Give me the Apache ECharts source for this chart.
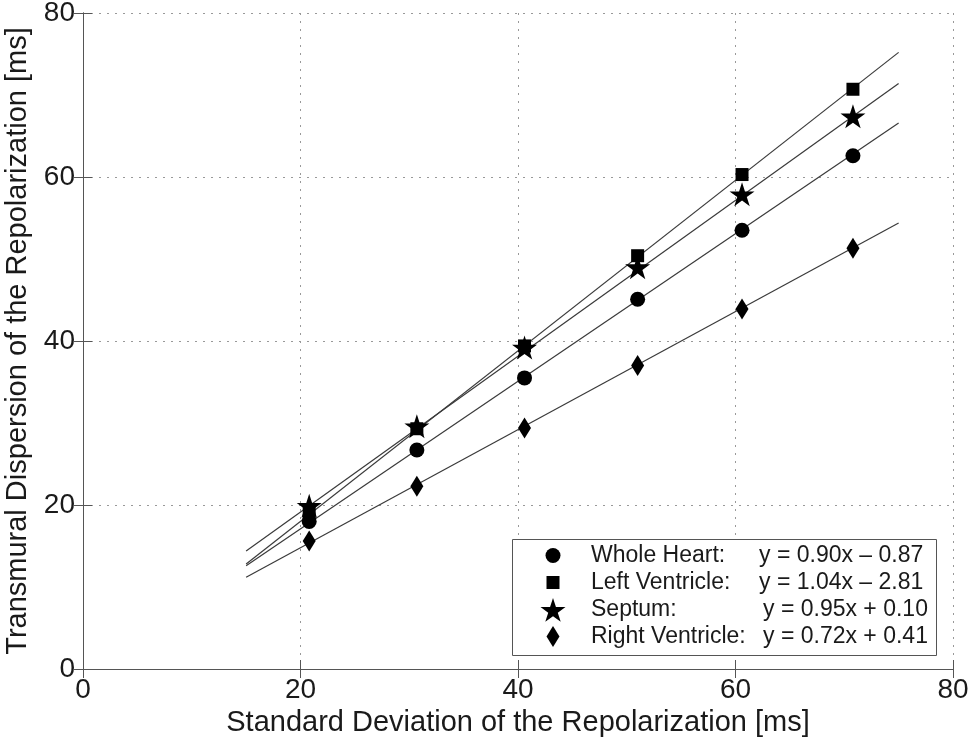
<!DOCTYPE html>
<html>
<head>
<meta charset="utf-8">
<script src="https://cdn.jsdelivr.net/npm/echarts@6/dist/echarts.min.js"></script>
<style>
  html, body { margin: 0; padding: 0; background: #fff; }
  #chart { width: 976px; height: 741px; }
</style>
</head>
<body>
<div id="chart"></div>
<script>
// measured points (x = SD of repolarization, y = transmural dispersion)
const sdX = [20.8, 30.7, 40.6, 51.0, 60.6, 70.8];
const wholeHeart = [18.0, 26.7, 35.5, 45.1, 53.5, 62.6];
const leftVentricle = [19.1, 29.3, 39.4, 50.4, 60.3, 70.7];
const septum = [19.9, 29.6, 39.2, 49.0, 57.9, 67.4];
const rightVentricle = [15.6, 22.3, 29.4, 37.0, 43.9, 51.3];

// regression lines, end points
const fitX = [15, 75];
const fitWhole = [12.6, 66.6];
const fitLeft = [12.8, 75.2];
const fitSeptum = [14.4, 71.4];
const fitRight = [11.2, 54.4];

const names = ['Whole Heart:', 'Left Ventricle:', 'Septum:', 'Right Ventricle:'];
const equations = ['y = 0.90x \u2013 0.87', 'y = 1.04x \u2013 2.81', 'y = 0.95x + 0.10', 'y = 0.72x + 0.41'];

const STAR = 'path://M0,-10 L2.245,-3.09 L9.51,-3.09 L3.633,1.18 L5.878,8.09 L0,3.82 L-5.878,8.09 L-3.633,1.18 L-9.51,-3.09 L-2.245,-3.09 Z';
const FONT = 'Liberation Sans, Arial, Helvetica, sans-serif';
const TXT = '#1a1a1a';

const symbols = ['circle', 'rect', STAR, 'diamond'];
const symbolSizes = [[15, 15], [13, 13], [25, 24], [13, 21]];

// legend box layout (px)
const legendRowY = [556, 583, 610, 637];
const legendIconX = 553;
const legendTextX = 591;
const legendEqX = [759, 759, 763, 763];

const pair = (xs, ys) => xs.map((x, i) => [x, ys[i]]);

const fitLine = (ys) => ({
  type: 'line',
  data: pair(fitX, ys),
  symbol: 'none',
  silent: true,
  animation: false,
  lineStyle: { color: '#3a3a3a', width: 1.2 },
  z: 2
});

const markers = (i, ys) => ({
  type: 'scatter',
  name: names[i],
  data: pair(sdX, ys),
  symbol: symbols[i],
  symbolSize: symbolSizes[i],
  itemStyle: { color: '#000', opacity: 1 },
  animation: false,
  z: 3
});

// one legend per row so every icon can keep its own size
const legends = names.map((name, i) => {
  const w = symbolSizes[i][0];
  const h = symbolSizes[i][1];
  return {
    left: legendIconX - w / 2,
    top: legendRowY[i] - 12,
    padding: 0,
    itemWidth: w,
    itemHeight: h,
    selectedMode: false,
    data: [{ name: name, icon: symbols[i] }],
    formatter: () => '{a|' + name + '}{b|' + equations[i] + '}',
    textStyle: {
      color: TXT,
      fontFamily: FONT,
      rich: {
        a: {
          fontSize: 23, lineHeight: 24, fontFamily: FONT, color: TXT,
          width: legendEqX[i] - legendTextX,
          padding: [0, 0, 0, legendTextX - (legendIconX + w / 2 + 5)]
        },
        b: { fontSize: 23, lineHeight: 24, fontFamily: FONT, color: TXT }
      }
    }
  };
});

const chart = echarts.init(document.getElementById('chart'));

const axisBase = {
  type: 'value',
  min: 0,
  max: 80,
  interval: 20,
  axisLine: { show: true, lineStyle: { color: '#555', width: 1 } },
  axisTick: { show: true, inside: true, length: 9, lineStyle: { color: '#555' } }
};

chart.setOption({
  backgroundColor: '#fff',
  textStyle: { fontFamily: FONT },
  grid: { left: 83, right: 23, top: 13, bottom: 72, containLabel: false, outerBoundsMode: 'none' },
  xAxis: [
    Object.assign({}, axisBase, {
      position: 'bottom',
      name: 'Standard Deviation of the Repolarization [ms]',
      nameLocation: 'middle',
      nameGap: 39,
      nameTextStyle: { fontSize: 29, color: TXT, fontFamily: FONT },
      axisLabel: { fontSize: 28, color: TXT, margin: 7, fontFamily: FONT },
      splitLine: { show: true, lineStyle: { type: [2, 6], color: '#999', width: 1 } }
    }),
    Object.assign({}, axisBase, {
      position: 'top',
      axisLabel: { show: false },
      splitLine: { show: false }
    })
  ],
  yAxis: [
    Object.assign({}, axisBase, {
      position: 'left',
      name: 'Transmural Dispersion of the Repolarization [ms]',
      nameLocation: 'middle',
      nameGap: 47,
      nameTextStyle: { fontSize: 29, color: TXT, fontFamily: FONT },
      axisLabel: { fontSize: 28, color: TXT, margin: 8, fontFamily: FONT },
      splitLine: { show: true, lineStyle: { type: [2, 6], color: '#999', width: 1 } }
    }),
    Object.assign({}, axisBase, {
      position: 'right',
      axisLabel: { show: false },
      splitLine: { show: false }
    })
  ],
  graphic: [{
    type: 'rect',
    z: 3,
    silent: true,
    shape: { x: 512.5, y: 539.5, width: 424, height: 116 },
    style: { fill: '#fff', stroke: '#555', lineWidth: 1 }
  }],
  legend: legends,
  series: [
    fitLine(fitWhole),
    fitLine(fitLeft),
    fitLine(fitSeptum),
    fitLine(fitRight),
    markers(0, wholeHeart),
    markers(1, leftVentricle),
    markers(2, septum),
    markers(3, rightVentricle)
  ]
});
</script>
</body>
</html>
